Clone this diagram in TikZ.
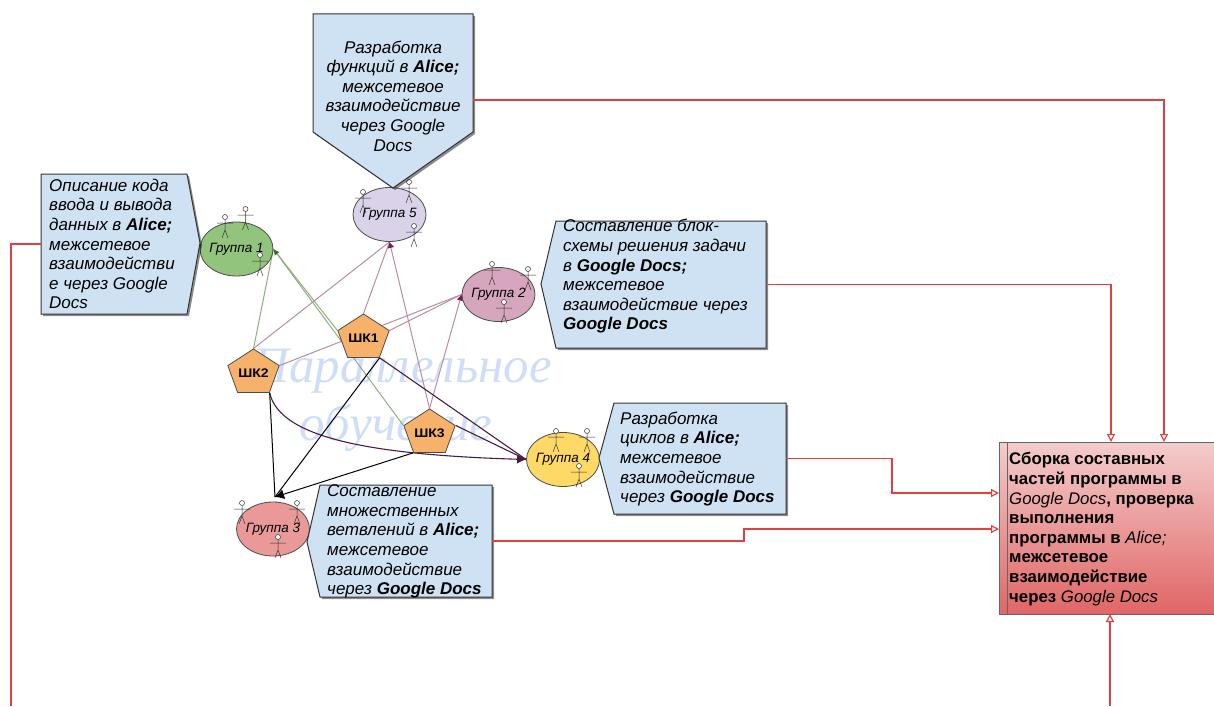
\documentclass[tikz,border=0pt]{standalone}
\usepackage{fontspec}
\setmainfont{Liberation Sans}
\newfontfamily\vodfont{Liberation Serif}
\usetikzlibrary{shapes.geometric,arrows.meta,shadows,backgrounds}
\definecolor{callfill}{HTML}{CFE2F3}
\definecolor{redline}{HTML}{E53E3E}
\definecolor{greenline}{HTML}{8FAE80}
\definecolor{pinkline}{HTML}{B88DA3}
\definecolor{plumline}{HTML}{4C1B44}
\definecolor{greenhead}{HTML}{2F6B21}
\definecolor{pinkhead}{HTML}{7C1A55}
\definecolor{vodcol}{HTML}{CFDEF8}
\definecolor{shkfill}{HTML}{F6B26B}
\definecolor{grgreen}{HTML}{93C47D}
\definecolor{grlilac}{HTML}{D9D2E9}
\definecolor{grpink}{HTML}{D5A6BD}
\definecolor{gryellow}{HTML}{FFD966}
\definecolor{grred}{HTML}{EA9999}
\definecolor{sbortop}{HTML}{F4CCCC}
\definecolor{sbormid}{HTML}{E06666}
\newcommand{\kurs}[1]{{\mdseries\itshape #1}}
\tikzset{%
    grp/.style={ellipse,draw=black!70,line width=0.8pt,inner sep=-8pt,minimum width=73pt,minimum height=54pt,font=\fontsize{13.5}{15}\selectfont\itshape},
    shk/.style={regular polygon,regular polygon sides=5,draw=black!70,line width=0.8pt,fill=shkfill,inner sep=0pt,minimum size=54pt,yscale=.89,transform shape,font=\fontsize{14}{16}\selectfont\bfseries},
    port/.style={inner sep=0pt,outer sep=0pt},
    callshape/.style={fill=callfill,draw=black!80,line width=1pt,drop shadow={shadow xshift=2pt,shadow yshift=-2pt,opacity=.45,fill=black}},
    calltext/.style={inner sep=0pt,align=left,font=\fontsize{17}{19.6}\selectfont\itshape},
    redcon/.style={draw=redline,line width=1.2pt,-{Triangle[open,length=8pt,width=8pt,fill=white]}},
    redpath/.style={draw=redline,line width=1.2pt},
    greencon/.style={draw=greenline,line width=1pt},
    pinkcon/.style={draw=pinkline,line width=1pt},
    plumcon/.style={draw=plumline,line width=1.1pt},
    blackcon/.style={draw=black,line width=1pt},
    actor/.pic={
        \draw[black!80,line width=0.5pt] (0,2.5) -- (0,13) (-8,6) -- (8,6) (-3,21) -- (0,13) -- (3,21);
        \draw[black!80,line width=0.5pt,fill=white] (0,0) circle[radius=2.5pt];
    }
}
\begin{document}
\begin{tikzpicture}[x=1pt,y=-1pt]
    \useasboundingbox (0,0) rectangle (1214,706);
    \node[port,minimum width=160pt,minimum height=118pt] (blok5) at (393,73) {};
    \node[port,minimum width=146pt,minimum height=140pt] (blok1) at (114,244) {};
    \node[port,minimum width=210pt,minimum height=127pt] (blok2) at (661,284.5) {};
    \node[port,minimum width=172pt,minimum height=111pt] (blok4) at (700,458.5) {};
    \node[port,minimum width=172pt,minimum height=112pt] (blok3) at (406,541) {};
    \node[grp,fill=grgreen] (gr1) at (236.5,249) {Группа 1};
    \node[grp,fill=grlilac] (gr5) at (389.5,214.5) {Группа 5};
    \node[grp,fill=grpink] (gr2) at (498.5,294.5) {Группа 2};
    \node[grp,fill=gryellow] (gr4) at (563,459.5) {Группа 4};
    \node[grp,fill=grred] (gr3) at (273,529) {Группа 3};
    \node[shk] (shk1) at (363.5,338) {ШК1};
    \node[shk] (shk2) at (253.5,373) {ШК2};
    \node[shk] (shk3) at (429.5,433) {ШК3};
    \node[port,draw=black!60,line width=1pt,top color=sbortop,middle color=sbormid,bottom color=sbormid,minimum width=225pt,minimum height=172pt] (sbor) at (1111.5,528) {};
    \coordinate (vhod3) at (275,497);
    \coordinate (niz1) at (11,706);
    \coordinate (niz2) at (1110,706);
    \begin{scope}[on background layer]
        \node[inner sep=0pt,align=center,text=vodcol,font=\fontsize{51}{58}\selectfont\vodfont\itshape] (vod) at (402,400) {Параллельное\\обучение\hspace*{12pt}};
        \draw[greencon] (shk2.corner 1) -- (gr1.east);
        \draw[greencon] (shk1.corner 2) -- (gr1.east);
        \draw[greencon,-{Latex[length=6pt,width=6pt,color=greenhead]}] (shk3.corner 2) -- (gr1.east);
        \draw[pinkcon] (shk2.corner 1) -- (gr5.south);
        \draw[pinkcon] (shk1.corner 1) -- (gr5.south);
        \draw[pinkcon,-{Latex[length=6pt,width=7pt,color=pinkhead]}] (shk3.corner 1) -- (gr5.south);
        \draw[pinkcon] (shk2.corner 5) -- (gr2.west);
        \draw[pinkcon] (shk1.corner 5) -- (gr2.west);
        \draw[pinkcon,-{Latex[length=6pt,width=7pt,color=pinkhead]}] (shk3.corner 1) -- (gr2.west);
        \draw[plumcon] (shk1.corner 4) -- (gr4.west);
        \draw[plumcon] (shk3.corner 5) -- (gr4.west);
        \draw[plumcon,-{Latex[length=9pt,width=9pt]}] (shk2.corner 4) .. controls (280,440) and (380,455) .. (gr4.west);
        \draw[blackcon] (shk2.corner 4) -- (vhod3);
        \draw[blackcon] (shk1.corner 4) -- (vhod3);
        \draw[blackcon,-{Latex[length=9pt,width=10pt]}] (shk3.corner 3) -- (vhod3);
    \end{scope}
    \foreach \x/\y in {225/217,245.5/209,260/255,363/192,409/182,414/226,492/264,528/269,504/302,556/431,587/431,579/466,242/503,297/503,278/537}
        \pic at (\x,\y) {actor};
    \path[callshape] (blok5.north west) -- (blok5.north east) -- (blok5.south east) -- (393,188) -- (blok5.south west) -- cycle;
    \path[callshape] (blok1.north west) -- (blok1.north east) -- (200,243) -- (blok1.south east) -- (blok1.south west) -- cycle;
    \path[callshape] (blok2.north west) -- (blok2.north east) -- (blok2.south east) -- (blok2.south west) -- (541,284) -- cycle;
    \path[callshape] (blok4.north west) -- (blok4.north east) -- (blok4.south east) -- (blok4.south west) -- (599,458) -- cycle;
    \path[callshape] (blok3.north west) -- (blok3.north east) -- (blok3.south east) -- (blok3.south west) -- (307,542) -- cycle;
    \node[calltext,align=center] (txt5) at (393,96) {Разработка\\функций в \textbf{Alice;}\\межсетевое\\взаимодействие\\через Google\\Docs};
    \node[calltext] (txt1) at (49,244) [anchor=west] {Описание кода\\ввода и вывода\\данных в \textbf{Alice;}\\межсетевое\\взаимодействи\\е через Google\\Docs};
    \node[calltext] (txt2) at (563,276.5) [anchor=west] {Составление блок-\\схемы решения задачи\\в \textbf{Google Docs;}\\межсетевое\\взаимодействие через\\\textbf{Google Docs}};
    \node[calltext] (txt4) at (620,459) [anchor=west] {Разработка\\циклов в \textbf{Alice;}\\межсетевое\\взаимодействие\\через \textbf{Google Docs}};
    \node[calltext] (txt3) at (327,541.5) [anchor=west] {Составление\\множественных\\ветвлений в \textbf{Alice;}\\межсетевое\\взаимодействие\\через \textbf{Google Docs}};
    \draw[draw=black!60,line width=1pt] (sbor.north west) ++(8,0) -- ++(0,172);
    \node[calltext,font=\fontsize{16.8}{19.6}\selectfont\bfseries] (txt6) at (1009,529) [anchor=west] {Сборка составных\\частей программы в\\\kurs{Google Docs}, проверка\\выполнения\\программы в \kurs{Alice;}\\межсетевое\\взаимодействие\\через \kurs{Google Docs}};
    \draw[redcon] (blok5.east |- 393,100) -- (1164,100) -- (sbor.north -| 1164,0);
    \draw[redcon] (blok2.east) -- (1111,284.5) -- (sbor.north -| 1111,0);
    \draw[redcon] (blok4.east) -- (892,458.5) -- (892,493) -- (sbor.west |- 0,493);
    \draw[redcon] (blok3.east) -- (744,541) -- (744,529) -- (sbor.west |- 0,529);
    \draw[redpath] (blok1.west) -- (11,244) -- (niz1);
    \draw[redcon] (niz2) -- (sbor.south -| niz2);
\end{tikzpicture}
\end{document}
